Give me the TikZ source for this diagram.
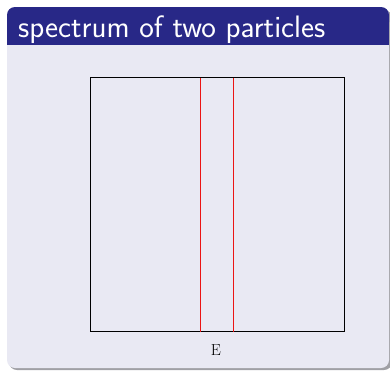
\documentclass[tikz,border=0pt]{standalone}
\usepackage{tikz}
\definecolor{hdr}{RGB}{40,40,135}
\definecolor{bodybg}{RGB}{233,233,243}
\definecolor{shadow}{RGB}{160,160,165}
\definecolor{specred}{RGB}{235,20,20}
\tikzset{
  spec/.style={specred, line width=1.2pt},
  frm/.style={black, line width=0.9pt},
}
\begin{document}
\begin{tikzpicture}[x=1pt,y=-1pt]
\useasboundingbox (0,0) rectangle (390,370);
\fill[white] (0,0) rectangle (390,370);
% shadow
\fill[shadow, rounded corners=8pt] (9,10) rectangle (392,370);
% body
\fill[bodybg, rounded corners=8pt] (7,7) rectangle (389,368);
% header
\fill[hdr, rounded corners=8pt] (7,7) rectangle (389,30);
\fill[hdr] (7,20) rectangle (389,45);
\node[anchor=base west, text=white, font=\sffamily\fontsize{31}{36}\selectfont, inner sep=0pt] (title) at (18,37) {spectrum of two particles};
% plot frame
\draw[frm] (90.5,77.5) rectangle (344.5,331.5);
\coordinate (l1t) at (200.5,77.5); \coordinate (l1b) at (200.5,331.5);
\coordinate (l2t) at (233.8,77.5); \coordinate (l2b) at (233.8,331.5);
\draw[spec] (l2t) -- (l2b);
\draw[spec] (l1t) -- (l1b);
\node[font=\fontsize{16}{19}\selectfont, inner sep=0pt] (E) at (216,350) {E};
\end{tikzpicture}
\end{document}
